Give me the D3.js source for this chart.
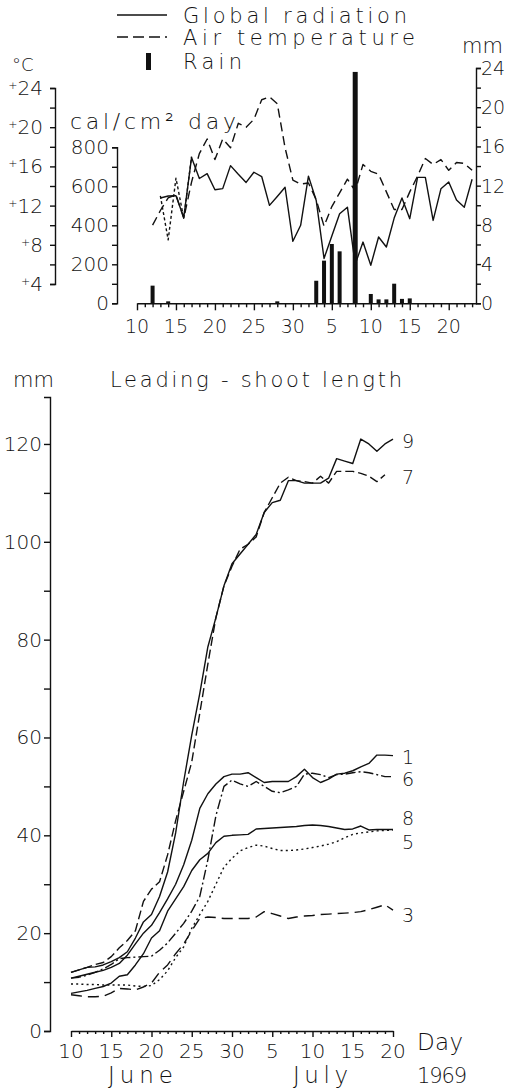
<!DOCTYPE html>
<html>
<head>
<meta charset="utf-8">
<script src="https://cdn.jsdelivr.net/npm/d3@7"></script>
<style>
  body { margin: 0; background: #fff; }
  svg text { font-family: "DejaVu Sans", sans-serif; font-weight: 200; fill: #111; }
  .axis path, .axis line { stroke: #111; stroke-width: 1.4; }
  .line { fill: none; stroke: #111; stroke-width: 1.4; stroke-linejoin: round; }
</style>
</head>
<body>
<svg width="515" height="1092"></svg>
<script>
const parse = d3.timeParse('%m/%d/%Y')
const day = s => parse(s + '/1969')

// ---- upper panel: weather ----
const radDates = ['6/13','6/14','6/15','6/16','6/17','6/18','6/19','6/20','6/21','6/22','6/23','6/24','6/25','6/26','6/27','6/28','6/29','6/30',
  '7/1','7/2','7/3','7/4','7/5','7/6','7/7','7/8','7/9','7/10','7/11','7/12','7/13','7/14','7/15','7/16','7/17','7/18','7/19','7/20','7/21','7/22','7/23']
const radiation = [540, 550, 552, 440, 748, 640, 665, 582, 588, 706, 662, 620, 672, 650, 502, 548, 595, 318,
  400, 652, 527, 230, 345, 459, 493, 200, 314, 195, 340, 289, 437, 540, 434, 646, 646, 425, 587, 622, 530, 493, 636]

const tempDates = ['6/12','6/13','6/14','6/15','6/16','6/17','6/18','6/19','6/20','6/21','6/22','6/23','6/24','6/25','6/26','6/27','6/28','6/29','6/30',
  '7/1','7/2','7/3','7/4','7/5','7/6','7/7','7/8','7/9','7/10','7/11','7/12','7/13','7/14','7/15','7/16','7/17','7/18','7/19','7/20','7/21','7/22','7/23']
const airTemp = [10.0, 11.5, 12.8, 13.1, 10.7, 14.4, 17.3, 18.8, 16.7, 18.8, 17.9, 20.4, 20.0, 20.8, 22.8, 23.1, 22.4, 17.9, 14.6,
  14.2, 14.3, 12.6, 9.9, 11.9, 13.3, 14.7, 13.5, 16.2, 15.5, 15.2, 13.4, 11.6, 11.6, 13.4, 15.0, 16.8, 16.2, 16.7, 15.6, 16.4, 16.3, 15.6]

const tempShortDates = ['6/13','6/14','6/15','6/16','6/17']
const airTempShort = [13.0, 8.5, 14.8, 10.7, 17.0]

const rainDates = ['6/12','6/14','6/28','7/3','7/4','7/5','7/6','7/8','7/10','7/11','7/12','7/13','7/14','7/15']
const rain = [1.8, 0.2, 0.2, 2.3, 4.35, 6.05, 5.3, 23.6, 0.95, 0.4, 0.4, 2.0, 0.45, 0.5]

const topTickLabels = ['6/10','6/15','6/20','6/25','6/30','7/5','7/10','7/15','7/20']
const tempTicks = [4, 6, 8, 10, 12, 14, 16, 18, 20, 22, 24]
const tempLabels = [4, 8, 12, 16, 20, 24]
const radTicks = [0, 100, 200, 300, 400, 500, 600, 700, 800]
const radLabels = [0, 200, 400, 600, 800]
const rainTicks = [0, 2, 4, 6, 8, 10, 12, 14, 16, 18, 20, 22, 24]
const rainLabels = [0, 4, 8, 12, 16, 20, 24]

// ---- lower panel: leading-shoot length (mm) ----
const growthDates = ['6/10','6/11','6/12','6/13','6/14','6/15','6/16','6/17','6/18','6/19','6/20','6/21','6/22','6/23','6/24','6/25','6/26','6/27','6/28','6/29','6/30',
  '7/1','7/2','7/3','7/4','7/5','7/6','7/7','7/8','7/9','7/10','7/11','7/12','7/13','7/14','7/15','7/16','7/17','7/18','7/19','7/20']
const shoot9 = [12.0, 12.5, 13.0, 13.1, 13.5, 14.2, 15.0, 16.2, 19.0, 22.3, 23.8, 27.5, 32.5, 40.5, 51.0, 60.5, 69.0, 78.5, 84.5, 91.0, 95.5,
  97.5, 99.5, 101.5, 106.0, 108.0, 108.5, 112.5, 112.5, 112.0, 112.0, 112.0, 113.0, 117.0, 116.5, 116.0, 121.0, 120.0, 118.5, 120.0, 121.0]
const shoot7 = [12.0, 12.5, 13.0, 13.6, 14.0, 15.2, 17.0, 18.5, 20.5, 26.5, 29.0, 30.5, 36.0, 43.0, 49.0, 55.0, 65.0, 75.0, 84.5, 91.0, 95.0,
  98.5, 99.5, 101.0, 106.0, 109.0, 112.0, 113.2, 112.5, 112.3, 112.0, 113.4, 112.0, 114.4, 114.4, 114.4, 114.0, 113.4, 112.3, 113.7]
const shoot1 = [10.8, 11.2, 11.6, 12.0, 12.4, 13.0, 13.8, 15.5, 17.8, 20.0, 21.6, 24.2, 27.0, 30.0, 34.0, 39.0, 45.5, 48.5, 50.5, 52.0, 52.5,
  52.5, 52.8, 51.8, 50.8, 51.0, 51.0, 51.0, 52.0, 53.5, 51.8, 50.8, 51.5, 52.5, 52.7, 53.2, 54.0, 54.7, 56.4, 56.4, 56.3]
const shoot6 = [10.8, 11.0, 11.4, 12.0, 12.7, 13.6, 14.8, 15.0, 15.1, 15.2, 15.3, 16.5, 18.0, 20.0, 22.0, 24.5, 27.5, 35.0, 44.0, 50.0, 51.3,
  50.5, 50.0, 51.0, 50.0, 49.0, 48.7, 49.3, 50.0, 52.5, 52.7, 52.4, 51.8, 52.4, 52.5, 52.8, 53.0, 52.8, 52.4, 52.0, 52.0]
const shoot8 = [7.7, 8.0, 8.3, 8.7, 9.1, 9.8, 11.2, 11.5, 13.5, 15.8, 19.0, 20.5, 24.5, 27.0, 29.5, 32.8, 35.0, 36.3, 38.5, 39.8, 40.0,
  40.1, 40.2, 41.3, 41.4, 41.5, 41.6, 41.7, 41.8, 42.0, 42.1, 42.0, 41.8, 41.5, 41.2, 41.3, 41.9, 41.1, 41.2, 41.2, 41.2]
const shoot5 = [9.6, 9.6, 9.5, 9.5, 9.4, 9.4, 9.4, 9.4, 9.2, 9.1, 9.3, 10.5, 12.3, 15.0, 17.2, 21.0, 23.8, 26.5, 30.0, 33.5, 35.3,
  36.8, 37.5, 38.0, 37.8, 37.3, 36.9, 36.9, 37.0, 37.2, 37.5, 37.8, 38.2, 38.7, 39.5, 40.2, 40.5, 40.7, 40.9, 41.0, 41.1]
const shoot3 = [7.4, 7.2, 7.0, 7.0, 7.1, 7.8, 8.7, 8.6, 8.4, 9.0, 9.8, 12.0, 13.5, 15.8, 17.8, 20.5, 23.0, 23.3, 23.2, 23.0, 23.0,
  23.0, 23.0, 23.3, 24.4, 24.0, 23.5, 23.0, 23.3, 23.5, 23.6, 23.8, 23.9, 24.0, 24.1, 24.2, 24.4, 24.8, 25.3, 25.8, 24.7]

const bottomTickLabels = ['6/10','6/15','6/20','6/25','6/30','7/5','7/10','7/15','7/20']
const shootTicks = [0, 10, 20, 30, 40, 50, 60, 70, 80, 90, 100, 110, 120]
const shootLabels = [0, 20, 40, 60, 80, 100, 120]

const shootSeries = [
  { name: '9', values: shoot9, dash: null },
  { name: '7', values: shoot7, dash: '9,4' },
  { name: '1', values: shoot1, dash: null },
  { name: '6', values: shoot6, dash: '10,3,2,3' },
  { name: '8', values: shoot8, dash: null },
  { name: '5', values: shoot5, dash: '2,3.2' },
  { name: '3', values: shoot3, dash: '11,6' }
]
// label placement relative to the end of each curve
const labelNudge = { '9': 9, '7': 9.5, '1': 8, '6': 9.5, '8': -4, '5': 19, '3': 12 }

var svg = d3.select('svg')

// ================= upper panel =================
const xTop = d3.scaleTime().domain([day('6/10'), d3.timeHour.offset(day('7/23'), 12)]).range([137, 476])
const yRad = d3.scaleLinear().domain([0, 800]).range([303.3, 147.3])
const yTemp = d3.scaleLinear().domain([4, 24]).range([284, 88])
const yRain = d3.scaleLinear().domain([0, 24]).range([303.3, 68])

// legend
const leg = svg.append('g')
leg.append('line').attr('x1', 117).attr('x2', 167).attr('y1', 15).attr('y2', 15)
  .attr('stroke', '#111').attr('stroke-width', 1.4)
leg.append('line').attr('x1', 117).attr('x2', 167).attr('y1', 37).attr('y2', 37)
  .attr('stroke', '#111').attr('stroke-width', 1.4).attr('stroke-dasharray', '11,5')
leg.append('rect').attr('x', 146).attr('y', 53).attr('width', 5).attr('height', 17).attr('fill', '#111')
leg.append('text').attr('x', 183).attr('y', 23).attr('font-size', 21)
  .attr('textLength', 224).attr('lengthAdjust', 'spacing').text('Global  radiation')
leg.append('text').attr('x', 183).attr('y', 45).attr('font-size', 21)
  .attr('textLength', 232).attr('lengthAdjust', 'spacing').text('Air  temperature')
leg.append('text').attr('x', 183).attr('y', 69).attr('font-size', 21)
  .attr('textLength', 59).attr('lengthAdjust', 'spacing').text('Rain')

// unit labels
svg.append('text').attr('x', 12).attr('y', 71).attr('font-size', 18).text('°C')
svg.append('text').attr('x', 70).attr('y', 129).attr('font-size', 22)
  .attr('textLength', 166).attr('lengthAdjust', 'spacing').text('cal/cm² day')
svg.append('text').attr('x', 462).attr('y', 53).attr('font-size', 21).text('mm')

// temperature axis
svg.append('g').attr('class', 'axis').attr('transform', 'translate(55,0)')
  .call(d3.axisLeft(yTemp).tickValues(tempTicks).tickSize(5).tickSizeOuter(5).tickFormat(''))
const tl = svg.append('g').selectAll('text').data(tempLabels).enter().append('text')
  .attr('x', 43).attr('y', d => yTemp(d) + 7).attr('text-anchor', 'end').attr('font-size', 20)
tl.append('tspan').attr('font-size', 11).attr('dy', -6).text('+')
tl.append('tspan').attr('dy', 6).text(d => d)

// radiation axis
svg.append('g').attr('class', 'axis').attr('transform', 'translate(117,0)')
  .call(d3.axisLeft(yRad).tickValues(radTicks).tickSize(5).tickSizeOuter(5).tickFormat(''))
svg.append('g').selectAll('text').data(radLabels).enter().append('text')
  .attr('x', 109).attr('y', d => yRad(d) + 7).attr('text-anchor', 'end').attr('font-size', 20)
  .text(d => d)

// rain axis
svg.append('g').attr('class', 'axis').attr('transform', 'translate(476,0)')
  .call(d3.axisRight(yRain).tickValues(rainTicks).tickSize(5).tickSizeOuter(5).tickFormat(''))
svg.append('g').selectAll('text').data(rainLabels).enter().append('text')
  .attr('x', 481).attr('y', d => yRain(d) + 7).attr('font-size', 19)
  .text(d => d)

// day axis
const topLabelSet = new Set(topTickLabels.map(s => +day(s)))
const xAxisTop = svg.append('g').attr('class', 'axis').attr('transform', `translate(0,${yRad(0)})`)
  .call(d3.axisBottom(xTop).ticks(d3.timeDay.every(1)).tickSize(4).tickSizeOuter(0).tickFormat(''))
xAxisTop.selectAll('.tick line').attr('y2', d => topLabelSet.has(+d) ? 7 : 4)
svg.append('g').selectAll('text').data(topTickLabels).enter().append('text')
  .attr('x', s => xTop(day(s))).attr('y', 333).attr('text-anchor', 'middle').attr('font-size', 19)
  .text(s => s.split('/')[1])

// rain bars
svg.append('g').selectAll('rect').data(rainDates).enter().append('rect')
  .attr('x', (s, i) => xTop(day(s)) - (rain[i] > 10 ? 2.5 : 2))
  .attr('width', (s, i) => rain[i] > 10 ? 5 : 4)
  .attr('y', (s, i) => yRain(rain[i]))
  .attr('height', (s, i) => yRain(0) - yRain(rain[i]))
  .attr('fill', '#111')

// radiation and temperature curves
svg.append('path').attr('class', 'line')
  .attr('d', d3.line().x(s => xTop(day(s))).y((s, i) => yRad(radiation[i]))(radDates))
svg.append('path').attr('class', 'line').attr('stroke-dasharray', '9,5')
  .attr('d', d3.line().x(s => xTop(day(s))).y((s, i) => yTemp(airTemp[i]))(tempDates))
svg.append('path').attr('class', 'line').attr('stroke-dasharray', '3,2.5')
  .attr('d', d3.line().x(s => xTop(day(s))).y((s, i) => yTemp(airTempShort[i]))(tempShortDates))

// ================= lower panel =================
const xBot = d3.scaleTime().domain([day('6/10'), day('7/20')]).range([71, 393])
const yBot = d3.scaleLinear().domain([0, 129.6]).range([1031, 397])

svg.append('text').attr('x', 13).attr('y', 387).attr('font-size', 21).text('mm')
svg.append('text').attr('x', 110).attr('y', 387).attr('font-size', 21)
  .attr('textLength', 292).attr('lengthAdjust', 'spacing').text('Leading - shoot  length')

svg.append('g').attr('class', 'axis').attr('transform', 'translate(50,0)')
  .call(d3.axisLeft(yBot).tickValues(shootTicks).tickSize(6).tickSizeOuter(6).tickFormat(''))
svg.append('g').selectAll('text').data(shootLabels).enter().append('text')
  .attr('x', 42).attr('y', d => yBot(d) + 7).attr('text-anchor', 'end').attr('font-size', 20)
  .text(d => d)

const botLabelSet = new Set(bottomTickLabels.map(s => +day(s)))
const xAxisBot = svg.append('g').attr('class', 'axis').attr('transform', `translate(0,${yBot(0)})`)
  .call(d3.axisBottom(xBot).ticks(d3.timeDay.every(1)).tickSize(3).tickSizeOuter(0).tickFormat(''))
xAxisBot.selectAll('.tick line').attr('y2', d => botLabelSet.has(+d) ? 6 : 3)
svg.append('g').selectAll('text').data(bottomTickLabels).enter().append('text')
  .attr('x', s => xBot(day(s))).attr('y', 1058).attr('text-anchor', 'middle').attr('font-size', 20)
  .text(s => s.split('/')[1])

svg.append('text').attr('x', 108).attr('y', 1083).attr('font-size', 23)
  .attr('textLength', 65).attr('lengthAdjust', 'spacing').text('June')
svg.append('text').attr('x', 293).attr('y', 1083).attr('font-size', 23)
  .attr('textLength', 55).attr('lengthAdjust', 'spacing').text('July')
svg.append('text').attr('x', 417).attr('y', 1050).attr('font-size', 23)
  .attr('textLength', 46).attr('lengthAdjust', 'spacing').text('Day')
svg.append('text').attr('x', 417).attr('y', 1083).attr('font-size', 21)
  .attr('textLength', 50).attr('lengthAdjust', 'spacing').text('1969')

const shootLine = vals => d3.line()
  .x((s, i) => xBot(day(s)))
  .y((s, i) => yBot(vals[i]))(growthDates.slice(0, vals.length))

svg.append('g').selectAll('path').data(shootSeries).enter().append('path')
  .attr('class', 'line')
  .attr('stroke-dasharray', d => d.dash)
  .attr('d', d => shootLine(d.values))

svg.append('g').selectAll('text').data(shootSeries).enter().append('text')
  .attr('x', xBot(day('7/20')) + 9)
  .attr('y', d => yBot(d.values[d.values.length - 1]) + labelNudge[d.name])
  .attr('font-size', 19)
  .text(d => d.name)
</script>
</body>
</html>
